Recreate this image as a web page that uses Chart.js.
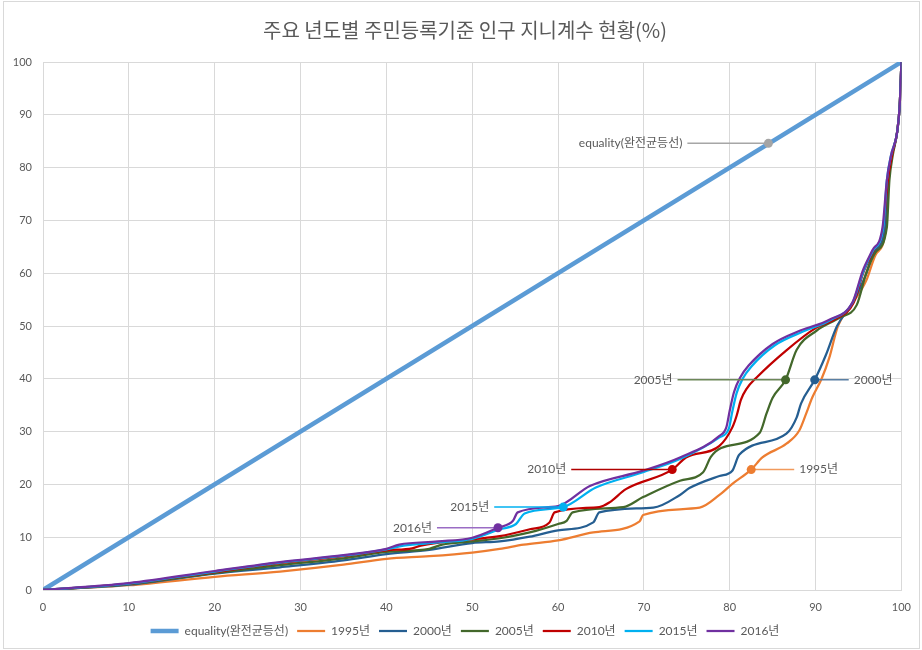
<!DOCTYPE html>
<html>
<head>
<meta charset="utf-8">
<script src="https://cdn.jsdelivr.net/npm/chart.js@4.4.0/dist/chart.umd.min.js"></script>
<style>
  body { margin: 0; background: #fff; }
  #wrap { width: 922px; height: 650px; position: relative; }
</style>
</head>
<body>
<div id="wrap"><canvas id="myChart"></canvas></div>
<script>
"use strict"

// SERIES NAMES (legend order)
const seriesNames = ['equality(완전균등선)', '1995년', '2000년', '2005년', '2010년', '2015년', '2016년'];

// LORENZ CURVES : cumulative population % (x) vs cumulative share % (y)
const eqX = [0, 100];
const eqY = [0, 100];

const x1995 = [0, 10, 20, 27.6, 35, 40, 45, 50, 53.2, 56, 60, 64.1, 69.5, 69.9, 76.5, 78.8, 80.3, 82.5, 83.8, 86.6, 88.1, 88.9, 89.6, 90.7, 91.6, 92.6, 94.3, 95.9, 97, 98.2, 98.5, 98.9, 99.5, 99.8, 100];
const y1995 = [0, 0.9, 2.5, 3.5, 4.8, 5.9, 6.4, 7.1, 7.8, 8.6, 9.4, 10.9, 13.0, 14.2, 15.6, 18.0, 20.1, 22.8, 25.1, 27.7, 30.2, 33.4, 36.4, 40, 44, 50, 54.3, 58.6, 63.5, 68.5, 77.6, 82.4, 86.7, 91.8, 100];

const x2000 = [0, 10, 20, 27.6, 35, 40, 45, 50, 53.2, 56.7, 60, 64.1, 64.8, 71.1, 74.2, 75.3, 78.8, 80.3, 81.1, 86.6, 87.8, 88.3, 89.9, 91.2, 92.5, 94.3, 95.8, 96.8, 98.1, 98.5, 98.9, 99.5, 99.8, 100];
const y2000 = [0, 1.0, 3.1, 4.3, 5.6, 6.8, 7.6, 8.9, 9.2, 10.1, 11.3, 12.8, 14.7, 15.6, 18.0, 19.3, 21.6, 22.6, 25.6, 29.6, 32.7, 35.3, 39.8, 44.5, 50, 54.3, 59.5, 64, 68.6, 77.6, 82.4, 86.7, 91.8, 100];

const x2005 = [0, 10, 20, 27.6, 35, 40, 45, 46.5, 50, 53.2, 56.7, 60, 61, 61.7, 67.6, 69.9, 74.2, 76.9, 77.8, 79, 83.5, 84.3, 85, 86.5, 87.8, 90.1, 92.8, 94.8, 95.9, 97, 98.3, 98.6, 99, 99.5, 99.8, 100];
const y2005 = [0, 1.1, 3.2, 4.7, 6.0, 7.2, 7.8, 8.6, 9.2, 9.8, 10.9, 12.5, 13.1, 14.7, 15.7, 17.6, 20.7, 22.3, 25.2, 26.9, 29.8, 33.5, 36.4, 39.8, 45.5, 49.1, 51.6, 54, 60, 64, 68.7, 77.6, 82.4, 86.7, 91.8, 100];

const x2010 = [0, 10, 20, 27.6, 35, 40, 43, 44, 50, 53.2, 56.7, 59.0, 59.6, 64.8, 66.0, 67.9, 73.3, 74.9, 78.8, 80.3, 80.8, 81.3, 82.0, 83.1, 86.6, 90, 92.4, 94.4, 95.6, 96.7, 97.9, 98.4, 98.9, 99.5, 99.8, 100];
const y2010 = [0, 1.2, 3.4, 5.1, 6.4, 7.5, 7.9, 8.4, 9.6, 10.2, 11.5, 12.8, 14.7, 15.7, 16.6, 19.1, 22.8, 25.1, 27.3, 30.8, 33.0, 36.0, 38.2, 40.2, 45.4, 49.6, 51.4, 54.3, 60.3, 64.1, 68.6, 77.4, 82.3, 86.7, 91.8, 100];

const x2015 = [0, 10, 20, 27.6, 35, 40, 42, 46, 50, 53.2, 55.1, 56.1, 60.6, 64.4, 69.9, 74.2, 78.8, 79.9, 80.3, 80.8, 81.5, 82.5, 85.3, 88.6, 91.8, 94.3, 95.6, 96.7, 97.9, 98.3, 98.8, 99.5, 99.8, 100];
const y2015 = [0, 1.2, 3.5, 5.2, 6.5, 7.7, 8.4, 9.0, 9.7, 11.5, 12.5, 14.5, 15.7, 19.4, 22.3, 24.8, 28.9, 30.6, 33.8, 37.3, 40.0, 42.3, 46.4, 49.0, 51.2, 54.4, 60.5, 64.3, 68.7, 77.6, 82.4, 86.7, 91.8, 100];

const x2016 = [0, 10, 20, 27.6, 35, 40, 41.5, 46, 50, 53.0, 54.75, 55.3, 60, 63.7, 69.9, 74.2, 78.8, 79.6, 80.0, 80.5, 81.2, 82.2, 85.0, 88.3, 91.6, 94.3, 95.5, 96.6, 97.8, 98.3, 98.8, 99.5, 99.8, 100];
const y2016 = [0, 1.3, 3.6, 5.3, 6.6, 7.8, 8.6, 9.2, 9.9, 11.8, 13.1, 14.7, 15.9, 19.7, 22.6, 25.1, 29.2, 30.8, 34.0, 37.5, 40.2, 42.5, 46.6, 49.2, 51.2, 54.5, 60.5, 64.3, 68.7, 77.6, 82.4, 86.7, 91.8, 100];

// CALLOUT POINTS (one per series)
const calloutX = [84.5, 82.5, 89.9, 86.5, 73.3, 60.6, 53.0];
const calloutY = [84.6, 22.8, 39.8, 39.8, 22.8, 15.7, 11.8];

// TICKS
const axisMin = 0, axisMax = 100, axisStep = 10;

// STYLE
const colors = ['#5B9BD5', '#ED7D31', '#255E91', '#43682B', '#C00000', '#00B0F0', '#7030A0'];
const leaderColors = ['#a6a6a6', '#f19a5c', '#5a7fa3', '#6c8758', '#b00000', '#00b0f0', '#9a6cc4'];
const dotColors = ['#a5a5a5', '#ED7D31', '#255E91', '#43682B', '#C00000', '#00B0F0', '#7030A0'];
const leaderSide = [-1, 1, 1, -1, -1, -1, -1];
const leaderLen = [81, 43, 34, 108, 101, 69, 61];
const textGrey = '#595959';
const gridGrey = '#d9d9d9';
const baseFont = "Lato, 'Noto Sans CJK KR', sans-serif";

function pts(xs, ys) {
    return xs.map((x, i) => ({ x: x, y: ys[i] }));
}

const seriesX = [eqX, x1995, x2000, x2005, x2010, x2015, x2016];
const seriesY = [eqY, y1995, y2000, y2005, y2010, y2015, y2016];

const datasets = seriesNames.map((name, i) => ({
    label: name,
    data: pts(seriesX[i], seriesY[i]),
    borderColor: colors[i],
    backgroundColor: colors[i],
    borderWidth: i === 0 ? 4.5 : 2.25,
    pointRadius: 0,
    fill: false,
    cubicInterpolationMode: i === 0 ? 'default' : 'monotone',
    order: i === 0 ? 7 : 7 - i
}));

// frame, centring of title/legend on the whole frame, callouts
const framePlugin = {
    id: 'frame',
    afterLayout(chart) {
        // title + legend are centred on the full chart frame, not the plot
        const shift = 14;
        [chart.titleBlock, chart.legend].forEach(b => {
            if (b) { b.left += shift; b.right += shift; }
        });
    },
    beforeDraw(chart) {
        const ctx = chart.ctx;
        ctx.save();
        ctx.fillStyle = '#fff';
        ctx.fillRect(0, 0, chart.width, chart.height);
        ctx.strokeStyle = gridGrey;
        ctx.lineWidth = 1;
        ctx.strokeRect(3.5, 1.5, chart.width - 6, chart.height - 3);
        ctx.restore();
    }
};

const calloutPlugin = {
    id: 'callouts',
    afterDatasetsDraw(chart) {
        const ctx = chart.ctx;
        const xs = chart.scales.x, ys = chart.scales.y;
        ctx.save();
        ctx.font = '12px ' + baseFont;
        ctx.textBaseline = 'middle';
        calloutX.forEach((v, i) => {
            const px = xs.getPixelForValue(v);
            const py = ys.getPixelForValue(calloutY[i]);
            const ex = px + leaderSide[i] * leaderLen[i];
            ctx.strokeStyle = leaderColors[i];
            ctx.lineWidth = 1.5;
            ctx.beginPath();
            ctx.moveTo(px, py);
            ctx.lineTo(ex, py);
            ctx.stroke();
            ctx.fillStyle = dotColors[i];
            ctx.beginPath();
            ctx.arc(px, py, 4.5, 0, Math.PI * 2);
            ctx.fill();
            ctx.fillStyle = textGrey;
            ctx.textAlign = leaderSide[i] < 0 ? 'right' : 'left';
            ctx.fillText(seriesNames[i], ex + leaderSide[i] * 5, py);
        });
        ctx.restore();
    }
};

const config = {
    type: 'line',
    data: { datasets: datasets },
    options: {
        responsive: true,
        maintainAspectRatio: false,
        animation: false,
        layout: { padding: { left: 0, right: 20, top: 0, bottom: 3 } },
        plugins: {
            title: {
                display: true,
                text: '주요 년도별 주민등록기준 인구 지니계수 현황(%)',
                color: textGrey,
                font: { family: "'Noto Sans CJK KR', sans-serif", size: 20, weight: 'normal' },
                padding: { top: 18, bottom: 20 }
            },
            legend: {
                position: 'bottom',
                labels: {
                    usePointStyle: true,
                    pointStyle: 'line',
                    pointStyleWidth: 28,
                    color: textGrey,
                    font: { family: baseFont, size: 12 },
                    padding: 9,
                    sort: (a, b) => a.datasetIndex - b.datasetIndex
                }
            },
            tooltip: { enabled: false }
        },
        scales: {
            x: {
                type: 'linear',
                min: axisMin,
                max: axisMax,
                ticks: { stepSize: axisStep, color: textGrey, font: { family: baseFont, size: 11 }, padding: 11 },
                grid: { color: gridGrey, drawTicks: false },
                border: { color: gridGrey },
                afterFit: (s) => { s.height = 26; }
            },
            y: {
                min: axisMin,
                max: axisMax,
                ticks: { stepSize: axisStep, color: textGrey, font: { family: baseFont, size: 11 }, padding: 11 },
                grid: { color: gridGrey, drawTicks: false },
                border: { color: gridGrey },
                afterFit: (s) => { s.width = 43; }
            }
        }
    },
    plugins: [framePlugin, calloutPlugin]
};

const myChart = new Chart(document.getElementById('myChart'), config);
</script>
</body>
</html>
